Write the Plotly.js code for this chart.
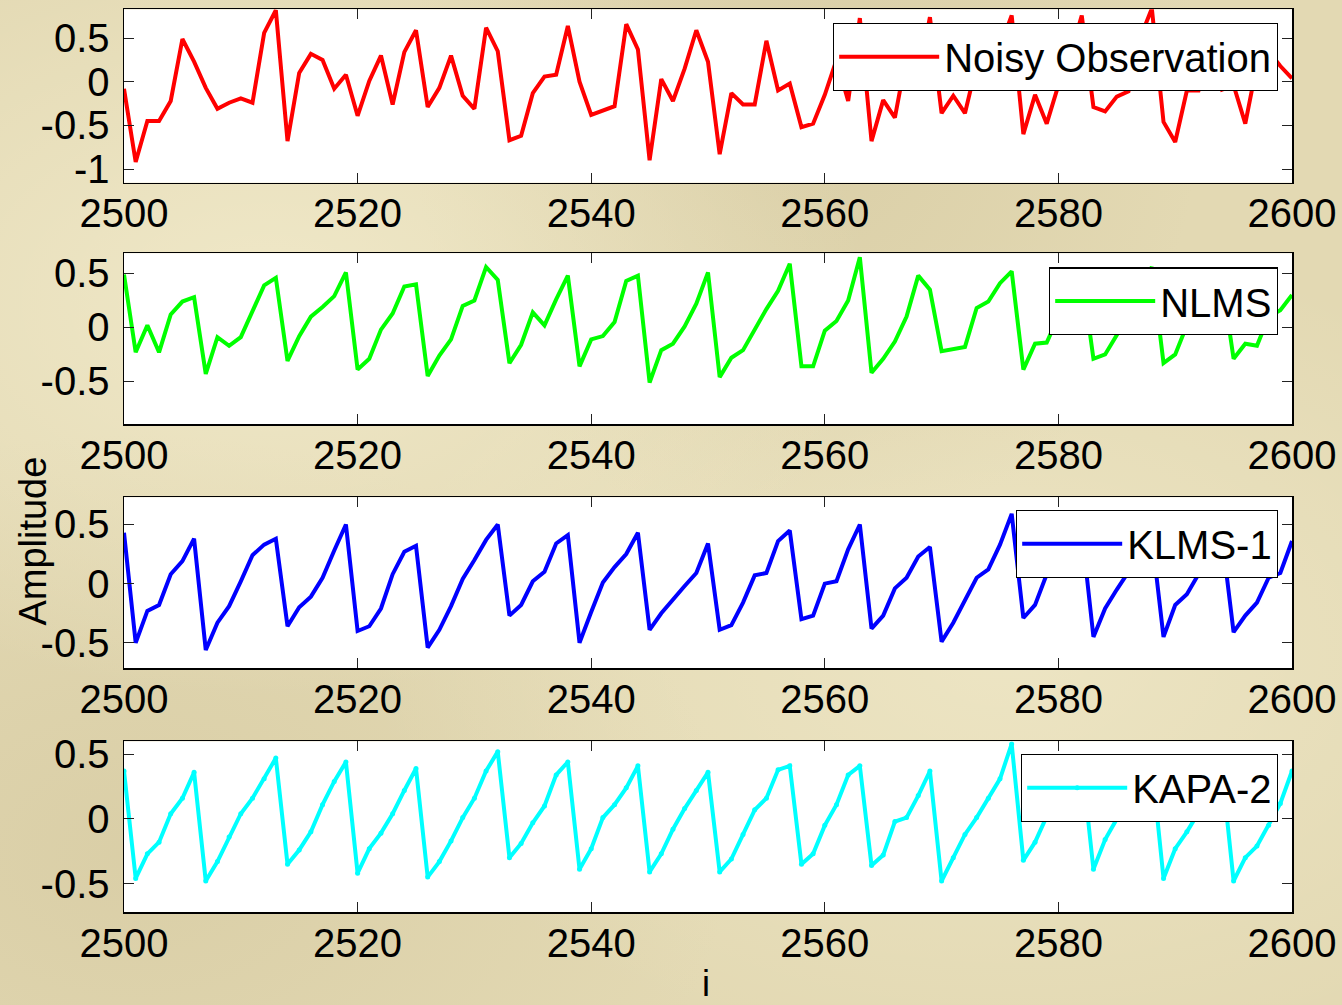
<!DOCTYPE html>
<html>
<head>
<meta charset="utf-8">
<script src="https://cdn.plot.ly/plotly-3.0.1.min.js"></script>
<style>
  html, body { margin: 0; padding: 0; }
  body {
    width: 1342px; height: 1005px; overflow: hidden;
    background-color: #e3d9b3;
    background-image:
      radial-gradient(ellipse at 20% 30%, rgba(255,250,225,0.45) 0%, rgba(255,250,225,0) 40%),
      radial-gradient(ellipse at 75% 65%, rgba(255,250,225,0.35) 0%, rgba(255,250,225,0) 45%),
      radial-gradient(ellipse at 60% 10%, rgba(190,175,130,0.25) 0%, rgba(190,175,130,0) 35%),
      radial-gradient(ellipse at 10% 85%, rgba(190,175,130,0.25) 0%, rgba(190,175,130,0) 35%);
  }
  #chart { width: 1342px; height: 1005px; }
</style>
</head>
<body>
<div id="chart"></div>
<script>
// ---------------- data ----------------
const iStart = 2500;
const sampleIndex = Array.from({length: 101}, (_, k) => iStart + k);

const noisyObservation = [
  -0.08, -0.92, -0.45, -0.45, -0.22, 0.49, 0.23, -0.07, -0.31, -0.24,
  -0.19, -0.24, 0.56, 0.82, -0.68, 0.10, 0.32, 0.25, -0.08, 0.08,
  -0.39, 0.01, 0.30, -0.26, 0.34, 0.59, -0.29, -0.07, 0.30, -0.16,
  -0.31, 0.62, 0.35, -0.67, -0.62, -0.13, 0.06, 0.08, 0.64, 0.00,
  -0.38, -0.33, -0.28, 0.66, 0.37, -0.90, 0.03, -0.22, 0.15, 0.59,
  0.23, -0.83, -0.13, -0.26, -0.26, 0.47, -0.10, -0.02, -0.52, -0.48,
  -0.15, 0.25, -0.22, 0.73, -0.68, -0.21, -0.41, 0.30, 0.05, 0.74,
  -0.36, -0.16, -0.36, 0.20, 0.10, 0.40, 0.76, -0.60, -0.15, -0.48,
  -0.04, 0.30, 0.76, -0.29, -0.34, -0.17, -0.11, 0.50, 0.84, -0.46,
  -0.69, -0.10, -0.10, 0.30, -0.09, -0.04, -0.48, 0.20, 0.35, 0.18,
  0.04
];

const nlms = [
  0.49, -0.23, 0.02, -0.23, 0.12, 0.24, 0.28, -0.43, -0.09, -0.17,
  -0.09, 0.15, 0.39, 0.46, -0.31, -0.08, 0.10, 0.19, 0.29, 0.51,
  -0.39, -0.29, -0.02, 0.13, 0.38, 0.40, -0.45, -0.26, -0.11, 0.20,
  0.25, 0.56, 0.44, -0.33, -0.16, 0.14, 0.02, 0.26, 0.48, -0.36,
  -0.11, -0.08, 0.05, 0.43, 0.48, -0.51, -0.21, -0.15, 0.01, 0.22,
  0.51, -0.46, -0.28, -0.21, -0.02, 0.17, 0.34, 0.59, -0.36, -0.36,
  -0.03, 0.06, 0.25, 0.65, -0.42, -0.29, -0.13, 0.10, 0.48, 0.35,
  -0.22, -0.20, -0.18, 0.18, 0.24, 0.41, 0.52, -0.39, -0.15, -0.14,
  0.10, 0.30, 0.50, -0.29, -0.25, -0.07, 0.15, 0.35, 0.56, -0.33,
  -0.25, 0.02, 0.00, 0.25, 0.45, -0.29, -0.15, -0.17, 0.10, 0.16,
  0.30
];

const klms1 = [
  0.43, -0.50, -0.23, -0.18, 0.08, 0.19, 0.38, -0.56, -0.33, -0.19,
  0.02, 0.24, 0.33, 0.38, -0.36, -0.20, -0.11, 0.05, 0.28, 0.50,
  -0.40, -0.36, -0.21, 0.08, 0.27, 0.32, -0.54, -0.39, -0.19, 0.04,
  0.20, 0.37, 0.50, -0.27, -0.18, 0.02, 0.10, 0.34, 0.41, -0.50,
  -0.24, 0.01, 0.14, 0.25, 0.43, -0.39, -0.25, -0.13, -0.02, 0.09,
  0.34, -0.39, -0.35, -0.16, 0.07, 0.09, 0.36, 0.45, -0.30, -0.27,
  0.00, 0.02, 0.29, 0.50, -0.38, -0.27, -0.04, 0.05, 0.23, 0.31,
  -0.49, -0.33, -0.14, 0.05, 0.12, 0.33, 0.59, -0.29, -0.18, 0.08,
  0.20, 0.32, 0.45, -0.45, -0.21, -0.05, 0.10, 0.25, 0.40, -0.45,
  -0.18, -0.09, 0.08, 0.25, 0.40, -0.41, -0.27, -0.16, 0.05, 0.09,
  0.36
];

const kapa2 = [
  0.37, -0.46, -0.27, -0.18, 0.04, 0.16, 0.36, -0.48, -0.33, -0.14,
  0.04, 0.16, 0.31, 0.47, -0.35, -0.24, -0.10, 0.11, 0.29, 0.44,
  -0.42, -0.23, -0.11, 0.04, 0.22, 0.39, -0.45, -0.33, -0.17, 0.01,
  0.16, 0.37, 0.52, -0.30, -0.19, -0.03, 0.10, 0.34, 0.44, -0.39,
  -0.23, 0.01, 0.11, 0.24, 0.41, -0.41, -0.27, -0.08, 0.08, 0.22,
  0.36, -0.41, -0.31, -0.12, 0.07, 0.16, 0.38, 0.41, -0.35, -0.27,
  -0.05, 0.11, 0.34, 0.41, -0.36, -0.28, -0.02, 0.01, 0.18, 0.37,
  -0.48, -0.30, -0.12, 0.01, 0.16, 0.31, 0.58, -0.32, -0.18, 0.02,
  0.18, 0.32, 0.45, -0.39, -0.16, 0.00, 0.12, 0.28, 0.42, -0.46,
  -0.23, -0.10, 0.05, 0.22, 0.38, -0.48, -0.30, -0.21, -0.05, 0.12,
  0.37
];

const seriesNames = ['Noisy Observation', 'NLMS', 'KLMS-1', 'KAPA-2'];
const xTickVals = [2500, 2520, 2540, 2560, 2580, 2600];
const xTickText = ['2500', '2520', '2540', '2560', '2580', '2600'];
const yTickVals1 = [-1, -0.5, 0, 0.5];
const yTickText1 = ['-1', '-0.5', '0', '0.5'];
const yTickVals = [-0.5, 0, 0.5];
const yTickText = ['-0.5', '0', '0.5'];
const xTitle = 'i';
const yTitle = 'Amplitude';

// ---------------- styling ----------------
const FONT = '"Liberation Sans", Arial, Helvetica, sans-serif';
const TICKSIZE = 40;
const colors = ['#ff0000', '#00ff00', '#0000ff', '#00ffff'];
const seriesValues = [noisyObservation, nlms, klms1, kapa2];
const yRanges = [[-1.157, 0.83], [-0.894, 0.687], [-0.713, 0.73], [-0.72, 0.60]];
const domains = [[0.8182, 0.9907], [0.5781, 0.7480], [0.3353, 0.5052], [0.0925, 0.2624]];
const legendTops = [0.977, 0.734, 0.4925, 0.2498];

const traces = seriesValues.map((vals, k) => ({
  type: 'scatter',
  mode: k === 3 ? 'lines+markers' : 'lines',
  x: sampleIndex,
  y: vals,
  name: seriesNames[k],
  line: {color: colors[k], width: 4},
  marker: {color: colors[k], size: 5},
  xaxis: k === 0 ? 'x' : 'x' + (k + 1),
  yaxis: k === 0 ? 'y' : 'y' + (k + 1),
  legend: k === 0 ? 'legend' : 'legend' + (k + 1),
  showlegend: true
}));

const layout = {
  width: 1342, height: 1005,
  margin: {l: 124, r: 50, t: 0, b: 0},
  paper_bgcolor: 'rgba(0,0,0,0)',
  plot_bgcolor: '#ffffff',
  font: {family: FONT, size: TICKSIZE, color: '#000'},
  showlegend: true,
  annotations: [
    {text: yTitle, xref: 'paper', yref: 'paper', x: -0.078, y: 0.462,
     xanchor: 'center', yanchor: 'middle', textangle: -90, showarrow: false,
     font: {family: FONT, size: 38, color: '#000'}},
    {text: xTitle, xref: 'paper', yref: 'paper', x: 0.498, y: 0.021,
     xanchor: 'center', yanchor: 'middle', showarrow: false,
     font: {family: FONT, size: 36, color: '#000'}}
  ]
};

for (let k = 0; k < 4; k++) {
  const sx = k === 0 ? '' : String(k + 1);
  layout['xaxis' + sx] = {
    anchor: 'y' + sx, domain: [0, 1], range: [2500, 2600],
    tickmode: 'array', tickvals: xTickVals, ticktext: xTickText,
    ticks: 'inside', ticklen: 10, tickwidth: 1, tickcolor: '#222',
    showline: true, linecolor: '#000', linewidth: 1.5, mirror: 'ticks',
    showgrid: false, zeroline: false, ticklabelstandoff: -5,
    tickfont: {family: FONT, size: TICKSIZE, color: '#000'}
  };
  layout['yaxis' + sx] = {
    anchor: 'x' + sx, domain: domains[k], range: yRanges[k],
    tickmode: 'array',
    tickvals: k === 0 ? yTickVals1 : yTickVals,
    ticktext: k === 0 ? yTickText1 : yTickText,
    ticks: 'inside', ticklen: 10, tickwidth: 1, tickcolor: '#222',
    showline: true, linecolor: '#000', linewidth: 1.5, mirror: 'ticks',
    showgrid: false, zeroline: false, ticklabelstandoff: 5,
    tickfont: {family: FONT, size: TICKSIZE, color: '#000'}
  };
  const lg = k === 0 ? 'legend' : 'legend' + (k + 1);
  layout[lg] = {
    x: 0.988, xanchor: 'right', y: legendTops[k], yanchor: 'top',
    bgcolor: '#ffffff', bordercolor: '#000', borderwidth: 1.2,
    font: {family: FONT, size: TICKSIZE, color: '#000'},
    itemwidth: 100
  };
}

Plotly.newPlot('chart', traces, layout, {displayModeBar: false, staticPlot: true});
</script>
</body>
</html>
